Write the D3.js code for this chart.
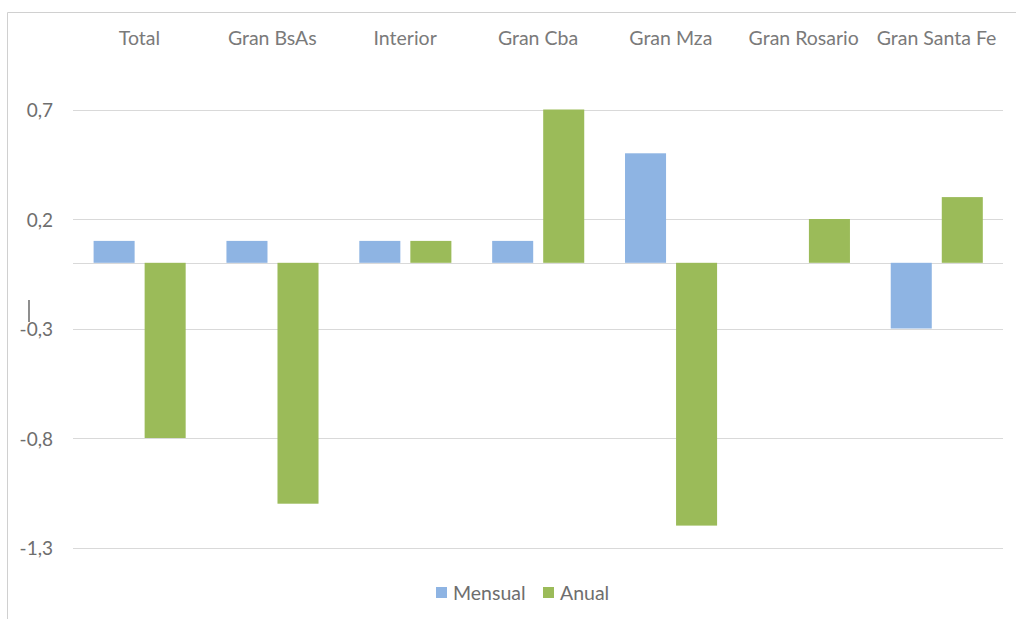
<!DOCTYPE html>
<html>
<head>
<meta charset="utf-8">
<script src="https://cdn.jsdelivr.net/npm/d3@7"></script>
<style>
  html, body { margin: 0; padding: 0; background: #fff; }
  svg { display: block; font-family: Lato, "Open Sans", sans-serif; }
</style>
</head>
<body>
<svg id="chart" width="1016" height="619"></svg>
<script>
const categories = ["Total", "Gran BsAs", "Interior", "Gran Cba", "Gran Mza", "Gran Rosario", "Gran Santa Fe"];
const seriesNames = ["Mensual", "Anual"];
const mensual = [0.1, 0.1, 0.1, 0.1, 0.5, 0.0, -0.3];
const anual = [-0.8, -1.1, 0.1, 0.7, -1.2, 0.2, 0.3];
const yTicks = [0.7, 0.2, -0.3, -0.8, -1.3];
const tickLabels = ["0,7", "0,2", "-0,3", "-0,8", "-1,3"];
const colors = ["#8EB4E3", "#9BBB59"];

const svg = d3.select("#chart");

// outer chart frame (cut off at right/bottom)
svg.append("line").attr("x1", 7.5).attr("x2", 1016).attr("y1", 12.5).attr("y2", 12.5)
  .attr("stroke", "#D0D0D0").attr("stroke-width", 1);
svg.append("line").attr("x1", 7.5).attr("x2", 7.5).attr("y1", 12.5).attr("y2", 619)
  .attr("stroke", "#D0D0D0").attr("stroke-width", 1);

const plotLeft = 73, plotRight = 1003;
const y = d3.scaleLinear().domain([-1.3, 0.7]).range([547.5, 109.5]);
const x0 = d3.scaleBand().domain(categories).range([plotLeft, plotRight]).padding(0);
const bw = x0.bandwidth();
const x1 = d3.scaleBand().domain(seriesNames).range([bw * 0.155, bw * 0.848]).paddingInner(0.196).paddingOuter(0);

// gridlines
svg.append("g").selectAll("line").data(yTicks).join("line")
  .attr("x1", plotLeft).attr("x2", plotRight)
  .attr("y1", d => Math.round(y(d)) + 0.5).attr("y2", d => Math.round(y(d)) + 0.5)
  .attr("stroke", "#D9D9D9").attr("stroke-width", 1.2);

// zero line
svg.append("line").attr("x1", plotLeft).attr("x2", plotRight)
  .attr("y1", Math.round(y(0)) + 0.5).attr("y2", Math.round(y(0)) + 0.5)
  .attr("stroke", "#D9D9D9").attr("stroke-width", 1.2);

// tick labels
svg.append("g").selectAll("text").data(yTicks).join("text")
  .attr("x", 53).attr("y", d => y(d))
  .attr("text-anchor", "end").attr("dominant-baseline", "central")
  .attr("font-size", 19).attr("fill", "#6E6E6E")
  .text((d, i) => tickLabels[i]);

// category labels (axis at top)
svg.append("g").selectAll("text").data(categories).join("text")
  .attr("x", d => x0(d) + bw / 2).attr("y", 44.5)
  .attr("text-anchor", "middle")
  .attr("font-size", 19.5).attr("fill", "#7A7A7A")
  .text(d => d);

// bars
const rows = categories.map((c, i) => ({ cat: c, vals: [mensual[i], anual[i]] }));
const g = svg.append("g");
rows.forEach(r => {
  r.vals.forEach((v, si) => {
    if (v === 0) return;
    g.append("rect")
      .attr("x", x0(r.cat) + x1(seriesNames[si]))
      .attr("width", x1.bandwidth())
      .attr("y", Math.min(y(v), y(0)))
      .attr("height", Math.abs(y(v) - y(0)))
      .attr("fill", colors[si]);
  });
});

// legend
const legend = svg.append("g");
const legendX = [436, 543];
seriesNames.forEach((s, i) => {
  legend.append("rect").attr("x", legendX[i]).attr("y", 587).attr("width", 11).attr("height", 11)
    .attr("fill", colors[i]);
  legend.append("text").attr("x", legendX[i] + 17).attr("y", 599.5)
    .attr("font-size", 19.5).attr("fill", "#6E6E6E").text(s);
});

// small text-cursor artifact
svg.append("line").attr("x1", 29).attr("x2", 29).attr("y1", 300).attr("y2", 322)
  .attr("stroke", "#444").attr("stroke-width", 1.2);
</script>
</body>
</html>
